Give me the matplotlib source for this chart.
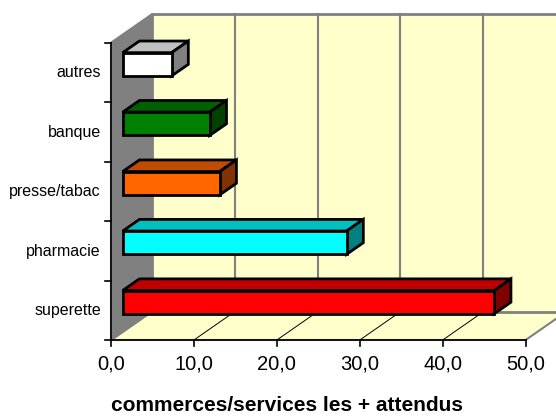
import matplotlib
matplotlib.use("Agg")
import matplotlib.pyplot as plt
from matplotlib.patches import Polygon

plt.rcParams['font.family'] = ['Liberation Sans', 'DejaVu Sans']

categories = ["superette", "pharmacie", "presse/tabac", "banque", "autres"]
values = [44.8, 27.0, 11.7, 10.5, 5.9]
front_colors = ["#FF0000", "#00FFFF", "#FF6600", "#008000", "#FFFFFF"]
top_colors = ["#C00000", "#00C0C0", "#C04C00", "#006000", "#C0C0C0"]
side_colors = ["#800000", "#008080", "#803300", "#004000", "#808080"]
xticks = [0, 10, 20, 30, 40, 50]
xtick_labels = ["0,0", "10,0", "20,0", "30,0", "40,0", "50,0"]
title = "commerces/services les + attendus"

W, H = 556, 416
fig = plt.figure(figsize=(W / 100, H / 100), dpi=100)
ax = fig.add_axes([0, 0, 1, 1])
ax.set_axis_off()

# pixel scales
PX_X = 8.293   # px per value unit
PX_Y = 59.46   # px per category unit
X0_PX = 111.0
Y0_PX = 340.0  # front axis line (y = -0.5)

ax.set_xlim(-X0_PX / PX_X, (W - X0_PX) / PX_X)
ax.set_ylim((Y0_PX - H) / PX_Y - 0.5, Y0_PX / PX_Y - 0.5)

# depth
DX = 40.7 / PX_X
DY = 28.3 / PX_Y
ybot, ytop = -0.5, len(categories) - 0.5
xmax = 50

grey = "#808080"
wall = "#FFFFCC"

# floor
ax.add_patch(Polygon([(0, ybot), (xmax, ybot), (xmax + DX, ybot + DY), (DX, ybot + DY)],
                     closed=True, facecolor=wall, edgecolor=grey, lw=1.5, zorder=1))
# back wall
ax.add_patch(Polygon([(DX, ybot + DY), (xmax + DX, ybot + DY), (xmax + DX, ytop + DY), (DX, ytop + DY)],
                     closed=True, facecolor=wall, edgecolor=grey, lw=2, zorder=1))
# left wall
ax.add_patch(Polygon([(0, ybot), (0, ytop), (DX, ytop + DY), (DX, ybot + DY)],
                     closed=True, facecolor=grey, edgecolor=grey, lw=1.5, zorder=1))

# back wall gridlines
for v in xticks[1:-1]:
    ax.plot([v + DX, v + DX], [ybot + DY, ytop + DY], color=grey, lw=1.5, zorder=2)
# floor gridlines
for v in xticks[1:-1]:
    ax.plot([v, v + DX], [ybot, ybot + DY], color="black", lw=0.7, zorder=2)

# axes lines
ax.plot([0, xmax], [ybot, ybot], color="black", lw=1.2, zorder=3)
ax.plot([0, 0], [ybot, ytop], color="black", lw=1.2, zorder=3)

# ticks
tick_len_y = 5.5 / PX_Y
tick_len_x = 6.0 / PX_X
for v, lab in zip(xticks, xtick_labels):
    ax.plot([v, v], [ybot, ybot - tick_len_y], color="black", lw=1.2, zorder=3)
    ax.text(v, ybot - (370 - Y0_PX) / PX_Y, lab, ha="center", va="baseline",
            fontsize=14.5, color="black")
for k in range(len(categories) + 1):
    ax.plot([0, -tick_len_x], [k - 0.5, k - 0.5], color="black", lw=1.2, zorder=3)
for i, c in enumerate(categories):
    ax.text(-10.0 / PX_X, i - 5.0 / PX_Y, c, ha="right", va="baseline",
            fontsize=11.5, color="black")

# bars
f_front = 11.67 / 40.7
f_back = 28.4 / 40.7
ox, oy = f_front * DX, f_front * DY
bx, by = f_back * DX, f_back * DY
h = 23.3 / PX_Y
for i, v in enumerate(values):
    y1, y2 = i + oy - h / 2, i + oy + h / 2
    top = [(ox, y2), (ox + v, y2), (bx + v, i + by + h / 2), (bx, i + by + h / 2)]
    side = [(ox + v, y1), (ox + v, y2), (bx + v, i + by + h / 2), (bx + v, i + by - h / 2)]
    front = [(ox, y1), (ox + v, y1), (ox + v, y2), (ox, y2)]
    for poly, col in ((top, top_colors[i]), (side, side_colors[i]), (front, front_colors[i])):
        ax.add_patch(Polygon(poly, closed=True, facecolor=col, edgecolor="black",
                             lw=2.0, joinstyle="miter", zorder=4))

fig.text(287 / W, (H - 411) / H, title, ha="center", va="baseline",
         fontsize=15, fontweight="bold", color="black")

fig.savefig("out.png", dpi=100)
